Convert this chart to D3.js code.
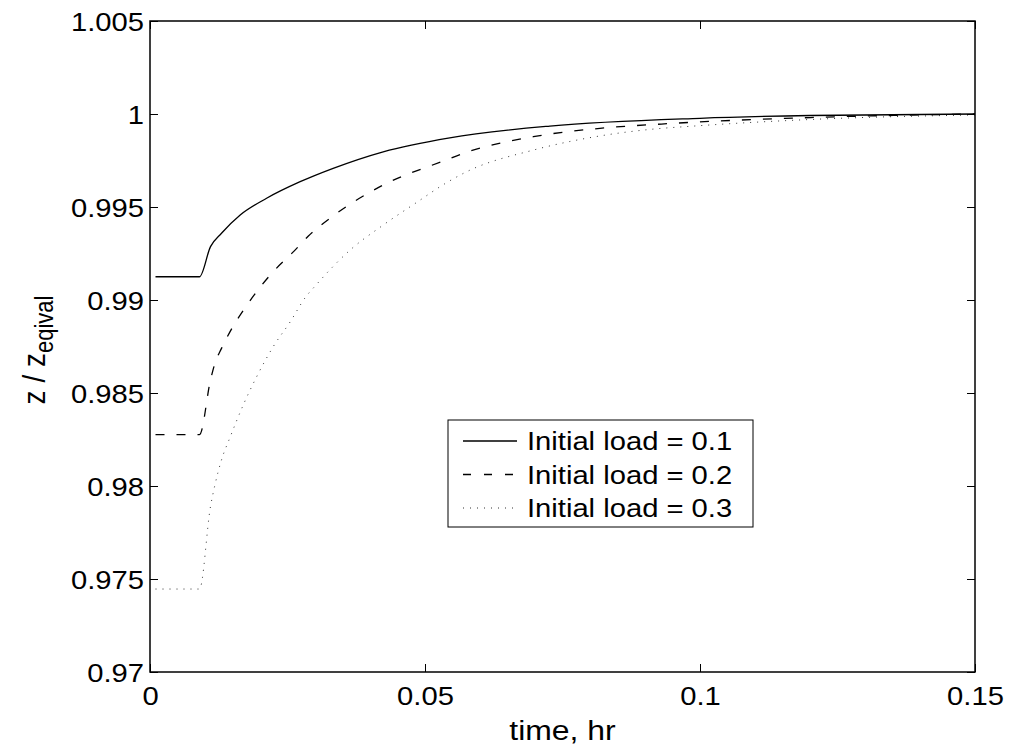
<!DOCTYPE html>
<html>
<head>
<meta charset="utf-8">
<script src="https://cdn.jsdelivr.net/npm/d3@7"></script>
<style>
  body { margin: 0; background: #fff; }
  text { font-family: "Liberation Sans", Arial, sans-serif; fill: #000; }
</style>
</head>
<body>
<div id="canvas"></div>
<script>
"use strict";

// Canvas
let svgWidth = 1011;
let svgHeight = 751;
let plot = { left: 150, right: 975, top: 21, bottom: 672 };
let SX = 1.14; // glyphs in the picture are a bit wider than Arial

// Data
let xTicks = [0, 0.05, 0.1, 0.15];
let xTickLabels = ["0", "0.05", "0.1", "0.15"];
let yTicks = [0.97, 0.975, 0.98, 0.985, 0.99, 0.995, 1, 1.005];
let yTickLabels = ["0.97", "0.975", "0.98", "0.985", "0.99", "0.995", "1", "1.005"];

let legendLabels = ["Initial load = 0.1", "Initial load = 0.2", "Initial load = 0.3"];

let tLoad1 = [0.001, 0.009, 0.011, 0.013, 0.0164, 0.0212, 0.0273, 0.0333, 0.0424, 0.0545, 0.0727, 0.1, 0.12, 0.15];
let zLoad1 = [0.99125, 0.99125, 0.99287, 0.99359, 0.99457, 0.99547, 0.99636, 0.99708, 0.99797, 0.99872, 0.99935, 0.99977, 0.99992, 1.0];

let tLoad2 = [0.001, 0.009, 0.011, 0.0118, 0.013, 0.0149, 0.017, 0.0194, 0.0224, 0.0261, 0.0288, 0.0333, 0.0424, 0.0533, 0.0576, 0.0697, 0.0818, 0.093, 0.1212, 0.15];
let zLoad2 = [0.98276, 0.98276, 0.9857, 0.98659, 0.9874, 0.98848, 0.98946, 0.99045, 0.99152, 0.9926, 0.99344, 0.99452, 0.99618, 0.99747, 0.99795, 0.99878, 0.99923, 0.99946, 0.99982, 1.0];

let tLoad3 = [0.001, 0.009, 0.011, 0.0118, 0.013, 0.0146, 0.0169, 0.0194, 0.0224, 0.0255, 0.0282, 0.0302, 0.0364, 0.0424, 0.0485, 0.0536, 0.0576, 0.0697, 0.0818, 0.0912, 0.0988, 0.1212, 0.15];
let zLoad3 = [0.97446, 0.97446, 0.9789, 0.98005, 0.9814, 0.98265, 0.98432, 0.98588, 0.98749, 0.98883, 0.99012, 0.99081, 0.99269, 0.99403, 0.99525, 0.99625, 0.9969, 0.99806, 0.99882, 0.99918, 0.99935, 0.99972, 0.99995];

let series = [
    { t: tLoad1, z: zLoad1, dash: null, width: 1.3, color: "#000" },
    { t: tLoad2, z: zLoad2, dash: "9,12", width: 1.3, color: "#000" },
    { t: tLoad3, z: zLoad3, dash: "1,6", width: 1, color: "#333" }
];

let svg = d3.select("#canvas")
    .append("svg")
    .attr("width", svgWidth)
    .attr("height", svgHeight);

// Scales
let xScale = d3.scaleLinear()
    .domain([0, 0.15])
    .range([plot.left, plot.right]);

let yScale = d3.scaleLinear()
    .domain([0.97, 1.005])
    .range([plot.bottom, plot.top]);

// Curves
let line = d3.line()
    .x(d => xScale(d[0]))
    .y(d => yScale(d[1]))
    .curve(d3.curveMonotoneX);

series.forEach(s => {
    svg.append("path")
        .datum(d3.zip(s.t, s.z))
        .attr("fill", "none")
        .attr("stroke", s.color)
        .attr("stroke-width", s.width)
        .attr("stroke-dasharray", s.dash)
        .attr("d", line);
});

// Axes (ticks point inward, on all four sides)
let fontTick = "25.6px";

let gLeft = svg.append("g")
    .attr("transform", `translate(${plot.left},0)`)
    .call(d3.axisLeft(yScale).tickValues(yTicks)
        .tickFormat((d, i) => yTickLabels[i]).tickSizeInner(-8).tickSizeOuter(0).tickPadding(6));

gLeft.selectAll("text")
    .style("font-size", fontTick)
    .attr("x", 0)
    .attr("dy", "0.36em")
    .attr("transform", `translate(-6,0) scale(${SX},1)`);

let gBottom = svg.append("g")
    .attr("transform", `translate(0,${plot.bottom})`)
    .call(d3.axisBottom(xScale).tickValues(xTicks)
        .tickFormat((d, i) => xTickLabels[i]).tickSizeInner(-8).tickSizeOuter(0));

gBottom.selectAll("text")
    .style("font-size", fontTick)
    .attr("y", 0)
    .attr("dy", null)
    .attr("transform", `translate(0,33) scale(${SX},1)`);

svg.append("g")
    .attr("transform", `translate(${plot.right},0)`)
    .call(d3.axisRight(yScale).tickValues(yTicks).tickFormat("").tickSizeInner(-8).tickSizeOuter(0));

svg.append("g")
    .attr("transform", `translate(0,${plot.top})`)
    .call(d3.axisTop(xScale).tickValues(xTicks).tickFormat("").tickSizeInner(-8).tickSizeOuter(0));

svg.selectAll(".domain").remove();
svg.selectAll(".tick line").attr("stroke", "#000").attr("stroke-width", 1);

// Box
svg.append("rect")
    .attr("x", plot.left)
    .attr("y", plot.top)
    .attr("width", plot.right - plot.left)
    .attr("height", plot.bottom - plot.top)
    .attr("fill", "none")
    .attr("stroke", "#000")
    .attr("stroke-width", 1.5);

// Axis labels
svg.append("text")
    .attr("transform", `translate(${(plot.left + plot.right) / 2},740) scale(${SX},1)`)
    .attr("text-anchor", "middle")
    .style("font-size", "28px")
    .text("time, hr");

let yLabel = svg.append("text")
    .attr("transform", `translate(45,350) scale(${SX},1) rotate(-90)`)
    .attr("text-anchor", "middle")
    .style("font-size", "28px");
yLabel.append("tspan").text("z / z");
yLabel.append("tspan").attr("dy", 7).style("font-size", "22px").text("eqival");

// Legend
let legX = 448, legY = 420, legW = 305, legH = 107;

svg.append("rect")
    .attr("x", legX)
    .attr("y", legY)
    .attr("width", legW)
    .attr("height", legH)
    .attr("fill", "#fff")
    .attr("stroke", "#000")
    .attr("stroke-width", 1);

legendLabels.forEach((label, i) => {
    let rowY = legY + 21 + i * 33.5;
    let s = series[i];
    svg.append("line")
        .attr("x1", legX + 15)
        .attr("x2", legX + 69)
        .attr("y1", rowY)
        .attr("y2", rowY)
        .attr("stroke", s.color)
        .attr("stroke-width", s.width)
        .attr("stroke-dasharray", s.dash === "9,12" ? "8,13" : s.dash);

    svg.append("text")
        .attr("transform", `translate(${legX + 79},${rowY}) scale(${SX},1)`)
        .attr("dy", "0.36em")
        .style("font-size", fontTick)
        .text(label);
});
</script>
</body>
</html>
